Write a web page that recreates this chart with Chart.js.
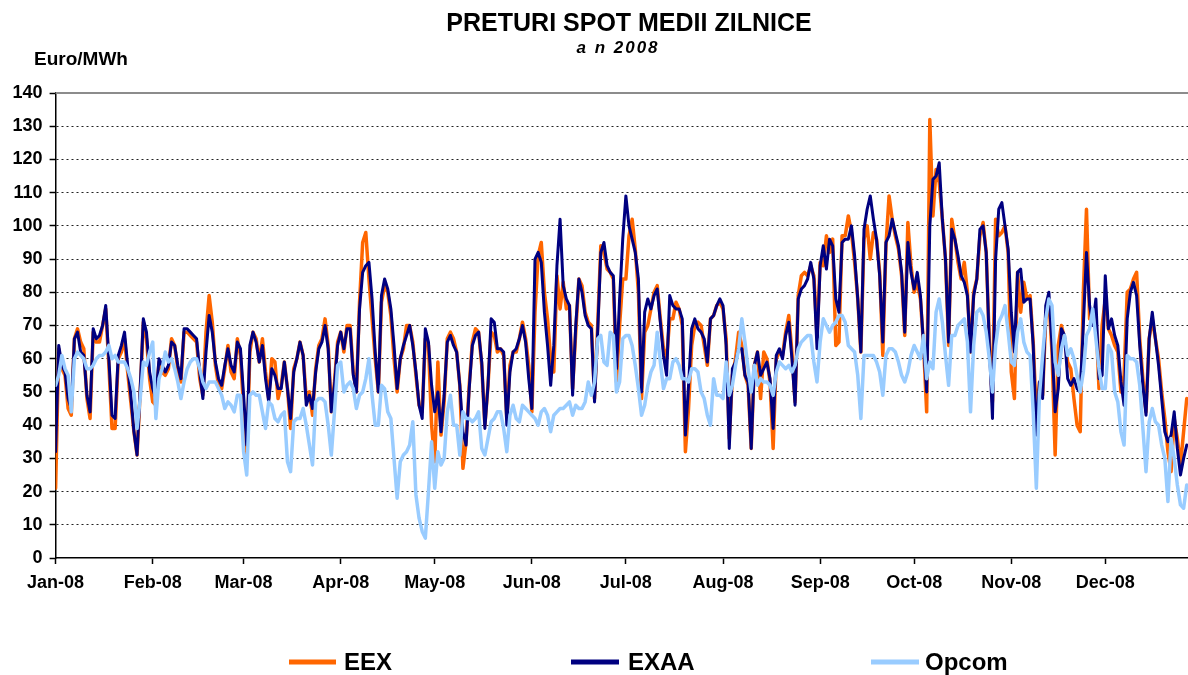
<!DOCTYPE html>
<html>
<head>
<meta charset="utf-8">
<script src="https://cdn.jsdelivr.net/npm/chart.js@4.4.1/dist/chart.umd.min.js"></script>
<style>
    html, body { margin: 0; padding: 0; background: #ffffff; }
</style>
</head>
<body>
<canvas id="spot-chart" width="1188" height="675"></canvas>
<script>
// prima zi a fiecarei luni (index de zi in 2008) si etichetele axei X
const monthStarts = [0, 31, 60, 91, 121, 152, 182, 213, 244, 274, 305, 335];
const monthLabels = ['Jan-08', 'Feb-08', 'Mar-08', 'Apr-08', 'May-08', 'Jun-08',
    'Jul-08', 'Aug-08', 'Sep-08', 'Oct-08', 'Nov-08', 'Dec-08'];

// EEX - pret mediu zilnic, Euro/MWh
const eexValues = [
    21, 63, 57, 55, 45, 43, 66, 69, 65, 63, 48, 42, 68, 65, 65, 70, 75, 58, 39, 39, 60, 62, 66, 56, 47, 38, 31, 50, 71, 66, 54,
    47, 46, 59, 56, 55, 57, 66, 64, 57, 53, 68, 68, 67, 66, 65, 54, 49, 68, 79, 71, 58, 52, 51, 57, 64, 56, 54, 66, 61,
    45, 29, 62, 68, 66, 59, 66, 56, 48, 60, 59, 48, 52, 59, 51, 39, 57, 60, 65, 61, 48, 50, 43, 57, 64, 66, 72, 64, 44, 53, 65,
    68, 62, 70, 70, 56, 50, 77, 95, 98, 84, 72, 60, 50, 77, 82, 80, 73, 60, 50, 60, 63, 70, 70, 65, 55, 46, 44, 66, 64, 40,
    29, 59, 37, 47, 66, 68, 66, 62, 52, 27, 35, 52, 65, 69, 68, 58, 40, 52, 68, 67, 62, 63, 61, 42, 58, 62, 62, 66, 71, 66, 58,
    44, 74, 91, 95, 80, 72, 60, 56, 85, 75, 83, 75, 76, 51, 68, 84, 82, 74, 71, 70, 48, 70, 94, 92, 87, 86, 84, 53, 70, 84,
    84, 97, 102, 93, 80, 48, 68, 70, 75, 80, 82, 72, 63, 60, 72, 72, 77, 75, 70, 32, 45, 64, 70, 71, 70, 64, 58, 72, 73, 76, 77,
    75, 66, 36, 55, 60, 68, 64, 55, 52, 33, 58, 62, 48, 62, 60, 53, 33, 60, 62, 61, 68, 73, 62, 47, 79, 85, 86, 85, 88, 85, 67,
    89, 88, 97, 92, 96, 64, 65, 97, 97, 103, 98, 89, 78, 62, 96, 100, 90, 98, 96, 86, 61, 94, 109, 102, 97, 93, 85, 67, 101, 88,
    80, 83, 78, 64, 44, 132, 103, 117, 113, 102, 90, 64, 102, 96, 89, 84, 89, 80, 62, 80, 84, 97, 101, 92, 65, 47, 102, 97, 98, 100, 92,
    56, 48, 86, 74, 83, 78, 79, 65, 43, 53, 49, 72, 78, 62, 31, 64, 70, 66, 59, 57, 48, 40, 38, 80, 105, 72, 72, 72, 51, 70,
    78, 69, 67, 64, 62, 50, 55, 80, 81, 84, 86, 66, 54, 44, 66, 72, 66, 60, 50, 42, 32, 26, 42, 36, 28, 38, 48
];

// EXAA - pret mediu zilnic, Euro/MWh
const exaaValues = [
    32, 64, 58, 56, 48, 45, 66, 68, 62, 61, 49, 44, 69, 66, 67, 70, 76, 60, 43, 42, 61, 64, 68, 58, 49, 38, 31, 51, 72, 68, 56,
    51, 48, 60, 58, 56, 58, 65, 64, 58, 54, 69, 69, 68, 67, 66, 56, 48, 62, 73, 68, 59, 54, 52, 58, 63, 58, 56, 65, 63,
    49, 34, 64, 68, 65, 59, 64, 54, 47, 57, 55, 51, 51, 59, 51, 42, 56, 60, 65, 61, 46, 49, 45, 56, 63, 65, 70, 63, 44, 52, 64,
    68, 63, 69, 69, 55, 50, 75, 86, 88, 89, 78, 62, 50, 79, 84, 81, 75, 64, 51, 60, 64, 67, 70, 64, 56, 46, 42, 69, 65, 52,
    44, 50, 38, 49, 65, 67, 64, 62, 52, 38, 34, 51, 64, 67, 68, 59, 39, 52, 72, 71, 63, 63, 62, 40, 56, 62, 63, 66, 70, 65, 54,
    45, 90, 92, 89, 74, 64, 52, 64, 88, 102, 82, 78, 76, 49, 70, 84, 80, 73, 70, 69, 47, 68, 92, 95, 88, 86, 85, 57, 78, 96,
    109, 100, 96, 92, 84, 50, 74, 78, 75, 79, 81, 71, 61, 55, 79, 76, 75, 75, 72, 37, 52, 69, 72, 69, 68, 66, 59, 72, 73, 76, 78,
    76, 64, 33, 57, 59, 63, 63, 55, 53, 33, 58, 62, 55, 57, 59, 54, 39, 61, 63, 60, 67, 71, 60, 46, 78, 81, 82, 84, 89, 84, 63,
    88, 94, 87, 96, 94, 78, 74, 95, 96, 96, 100, 91, 78, 62, 99, 105, 109, 102, 96, 85, 65, 95, 97, 102, 98, 94, 86, 68, 95, 86,
    81, 86, 79, 64, 50, 100, 114, 115, 119, 102, 90, 65, 99, 96, 91, 85, 83, 79, 62, 79, 84, 99, 100, 92, 64, 42, 90, 105, 107, 100, 93,
    74, 62, 86, 87, 77, 78, 78, 64, 37, 53, 48, 76, 80, 64, 44, 51, 69, 67, 54, 52, 54, 51, 50, 70, 92, 76, 70, 78, 54, 55,
    85, 69, 72, 67, 64, 53, 46, 72, 80, 83, 79, 64, 52, 43, 66, 74, 66, 58, 48, 38, 35, 37, 44, 33, 25, 30, 34
];

// Opcom - pret mediu zilnic, Euro/MWh
const opcomValues = [
    52, 55, 61, 57, 55, 44, 60, 62, 61, 60, 57, 57, 58, 60, 61, 61, 62, 64, 60, 61, 59, 59, 59, 57, 54, 50, 39, 48, 59, 58, 62,
    65, 42, 54, 57, 62, 59, 60, 57, 53, 48, 53, 57, 59, 60, 60, 57, 53, 51, 53, 53, 53, 51, 49, 45, 47, 46, 44, 49, 49,
    32, 25, 49, 50, 49, 49, 44, 39, 47, 46, 42, 41, 43, 44, 29, 26, 41, 42, 42, 45, 40, 34, 28, 47, 48, 48, 47, 40, 31, 44, 58,
    59, 50, 52, 53, 51, 45, 49, 50, 54, 60, 49, 40, 40, 52, 51, 44, 42, 30, 18, 29, 31, 32, 34, 41, 19, 12, 8, 6, 20, 35,
    21, 32, 28, 30, 44, 49, 40, 40, 31, 44, 42, 42, 41, 42, 44, 33, 31, 36, 41, 42, 44, 44, 39, 32, 43, 46, 42, 41, 46, 45, 44,
    43, 42, 40, 44, 45, 43, 38, 43, 44, 45, 45, 46, 47, 43, 46, 45, 45, 47, 53, 49, 53, 66, 67, 59, 58, 68, 67, 50, 53, 66,
    67, 67, 64, 58, 51, 43, 46, 52, 56, 58, 68, 59, 51, 54, 54, 59, 60, 58, 54, 54, 53, 57, 57, 56, 50, 48, 43, 40, 54, 49, 49,
    48, 59, 49, 52, 58, 63, 72, 65, 57, 50, 58, 52, 54, 53, 53, 52, 49, 56, 59, 58, 57, 58, 56, 58, 63, 65, 66, 67, 67, 59, 53,
    65, 72, 70, 68, 70, 71, 73, 73, 71, 64, 63, 62, 55, 42, 61, 61, 61, 61, 59, 56, 49, 61, 63, 63, 62, 59, 55, 53, 56, 61,
    64, 62, 60, 67, 54, 59, 57, 74, 78, 71, 61, 52, 67, 67, 70, 71, 72, 65, 44, 64, 74, 75, 73, 68, 60, 50, 64, 71, 73, 76, 68,
    59, 58, 68, 72, 65, 62, 61, 44, 21, 49, 61, 72, 78, 76, 59, 55, 63, 67, 61, 63, 60, 55, 50, 56, 67, 69, 75, 66, 57, 51,
    51, 64, 62, 50, 47, 38, 34, 61, 60, 60, 59, 52, 39, 26, 41, 45, 41, 40, 34, 30, 17, 36, 30, 22, 16, 15, 22
];

// index de zi pentru fiecare valoare (axa X liniara)
const dayIndex = eexValues.map((value, index) => index);

Chart.defaults.font.family = '"Liberation Sans", Arial, sans-serif';
Chart.defaults.color = '#000000';

// titluri, linia de sus a zonei de desen si legenda
const decorPlugin = {
    id: 'decor',
    beforeDatasetsDraw(chart) {
        const ctx = chart.ctx;
        const area = chart.chartArea;
        ctx.save();
        ctx.strokeStyle = '#8c8c8c';
        ctx.lineWidth = 2;
        ctx.beginPath();
        ctx.moveTo(area.left, area.top);
        ctx.lineTo(area.right, area.top);
        ctx.stroke();
        ctx.restore();
    },
    afterDraw(chart) {
        const ctx = chart.ctx;
        ctx.save();
        ctx.fillStyle = '#000000';
        ctx.textBaseline = 'middle';

        ctx.textAlign = 'center';
        ctx.font = 'bold 25px "Liberation Sans", Arial, sans-serif';
        ctx.fillText('PRETURI SPOT MEDII ZILNICE', 629, 24);

        ctx.font = 'italic bold 17px "Liberation Sans", Arial, sans-serif';
        ctx.letterSpacing = '2px';
        ctx.fillText('a n 2008', 618, 48);
        ctx.letterSpacing = '0px';

        ctx.textAlign = 'left';
        ctx.font = 'bold 19px "Liberation Sans", Arial, sans-serif';
        ctx.fillText('Euro/MWh', 34, 60);

        // legenda
        const items = [
            {label: 'EEX', color: '#FF6600', x0: 289, x1: 336, tx: 344},
            {label: 'EXAA', color: '#000080', x0: 571, x1: 619, tx: 628},
            {label: 'Opcom', color: '#99CCFF', x0: 871, x1: 919, tx: 925}
        ];
        ctx.font = 'bold 24px "Liberation Sans", Arial, sans-serif';
        items.forEach(item => {
            ctx.strokeStyle = item.color;
            ctx.lineWidth = 5;
            ctx.beginPath();
            ctx.moveTo(item.x0, 662);
            ctx.lineTo(item.x1, 662);
            ctx.stroke();
            ctx.fillText(item.label, item.tx, 663);
        });
        ctx.restore();
    }
};

// liniile orizontale punctate, fara 0 si 140
const gridColor = (context) => {
    const value = context.tick ? context.tick.value : null;
    return (value === 0 || value === 140) ? 'rgba(0,0,0,0)' : '#222222';
};

const spotChart = new Chart(document.getElementById('spot-chart'), {
    type: 'line',
    data: {
        labels: dayIndex,
        datasets: [
            {
                label: 'Opcom',
                data: opcomValues,
                borderColor: '#99CCFF',
                borderWidth: 3.5,
                order: 1
            },
            {
                label: 'EXAA',
                data: exaaValues,
                borderColor: '#000080',
                borderWidth: 3,
                order: 2
            },
            {
                label: 'EEX',
                data: eexValues,
                borderColor: '#FF6600',
                borderWidth: 3.5,
                order: 3
            }
        ]
    },
    options: {
        responsive: false,
        animation: false,
        devicePixelRatio: 1,
        layout: {
            padding: {top: 93, right: 0, bottom: 77, left: 0}
        },
        elements: {
            point: {radius: 0},
            line: {tension: 0, borderJoinStyle: 'round', borderCapStyle: 'round'}
        },
        plugins: {
            legend: {display: false},
            tooltip: {enabled: false}
        },
        scales: {
            x: {
                type: 'linear',
                min: 0,
                max: 361.4,
                afterBuildTicks: (axis) => {
                    axis.ticks = monthStarts.map(value => ({value: value}));
                },
                afterFit: (axis) => {
                    axis.height = 40;
                },
                grid: {
                    drawOnChartArea: false,
                    drawTicks: true,
                    tickLength: 6,
                    tickColor: '#000000',
                    tickWidth: 1.5
                },
                border: {color: '#000000', width: 1.5},
                ticks: {
                    autoSkip: false,
                    maxRotation: 0,
                    padding: 8,
                    font: {size: 18, weight: 'bold'},
                    callback: (value) => monthLabels[monthStarts.indexOf(value)]
                }
            },
            y: {
                min: 0,
                max: 140,
                afterFit: (axis) => {
                    axis.width = 55.6;
                },
                grid: {
                    color: gridColor,
                    lineWidth: 1,
                    tickLength: 6,
                    tickColor: '#000000',
                    tickWidth: 1.5
                },
                border: {color: '#000000', width: 1.5, dash: [2, 3]},
                ticks: {
                    stepSize: 10,
                    padding: 7,
                    font: {size: 18, weight: 'bold'}
                }
            }
        }
    },
    plugins: [decorPlugin]
});
</script>
</body>
</html>
